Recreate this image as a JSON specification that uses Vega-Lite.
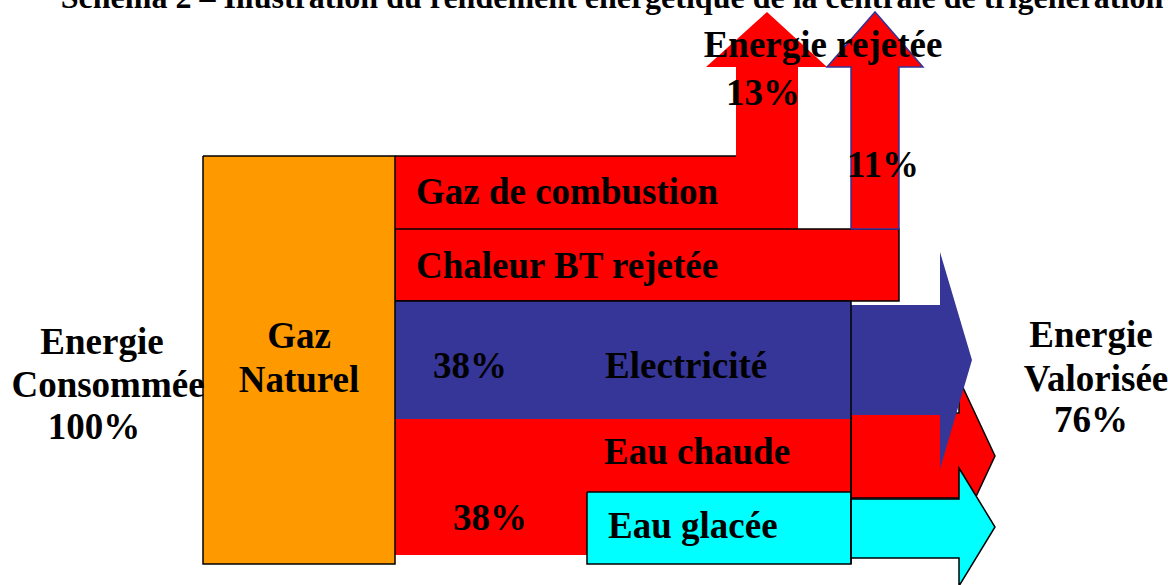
{
  "$schema": "https://vega.github.io/schema/vega-lite/v6.json",
  "width": 1168,
  "height": 585,
  "autosize": {"type": "none"},
  "padding": 0,
  "background": "white",
  "config": {"view": {"stroke": null}},
  "datasets": {
    "shapes": [
      {"shape": "comb", "i": 1, "x": 395, "y": 156},
      {"shape": "comb", "i": 2, "x": 736, "y": 156},
      {"shape": "comb", "i": 3, "x": 736, "y": 67},
      {"shape": "comb", "i": 4, "x": 706, "y": 67},
      {"shape": "comb", "i": 5, "x": 767, "y": 12},
      {"shape": "comb", "i": 6, "x": 827, "y": 67},
      {"shape": "comb", "i": 7, "x": 798, "y": 67},
      {"shape": "comb", "i": 8, "x": 798, "y": 229},
      {"shape": "comb", "i": 9, "x": 395, "y": 229},
      {"shape": "chaleur", "i": 1, "x": 395, "y": 229},
      {"shape": "chaleur", "i": 2, "x": 899, "y": 229},
      {"shape": "chaleur", "i": 3, "x": 899, "y": 301},
      {"shape": "chaleur", "i": 4, "x": 395, "y": 301},
      {"shape": "chaleur", "i": 5, "x": 395, "y": 229},
      {"shape": "rej11", "i": 1, "x": 851, "y": 229},
      {"shape": "rej11", "i": 2, "x": 851, "y": 67},
      {"shape": "rej11", "i": 3, "x": 827, "y": 67},
      {"shape": "rej11", "i": 4, "x": 875, "y": 12},
      {"shape": "rej11", "i": 5, "x": 923, "y": 67},
      {"shape": "rej11", "i": 6, "x": 899, "y": 67},
      {"shape": "rej11", "i": 7, "x": 899, "y": 229},
      {"shape": "rej11", "i": 8, "x": 851, "y": 229},
      {"shape": "chaude", "i": 1, "x": 395, "y": 419},
      {"shape": "chaude", "i": 2, "x": 851, "y": 419},
      {"shape": "chaude", "i": 3, "x": 851, "y": 555},
      {"shape": "chaude", "i": 4, "x": 395, "y": 555},
      {"shape": "chaudeArrow", "i": 1, "x": 851, "y": 413},
      {"shape": "chaudeArrow", "i": 2, "x": 959, "y": 413},
      {"shape": "chaudeArrow", "i": 3, "x": 959, "y": 379},
      {"shape": "chaudeArrow", "i": 4, "x": 995, "y": 456},
      {"shape": "chaudeArrow", "i": 5, "x": 959, "y": 533},
      {"shape": "chaudeArrow", "i": 6, "x": 959, "y": 498},
      {"shape": "chaudeArrow", "i": 7, "x": 851, "y": 498},
      {"shape": "chaudeArrow", "i": 8, "x": 851, "y": 413},
      {"shape": "elec", "i": 1, "x": 395, "y": 301},
      {"shape": "elec", "i": 2, "x": 851, "y": 301},
      {"shape": "elec", "i": 3, "x": 851, "y": 305},
      {"shape": "elec", "i": 4, "x": 940, "y": 305},
      {"shape": "elec", "i": 5, "x": 940, "y": 252},
      {"shape": "elec", "i": 6, "x": 972, "y": 360},
      {"shape": "elec", "i": 7, "x": 940, "y": 469},
      {"shape": "elec", "i": 8, "x": 940, "y": 415},
      {"shape": "elec", "i": 9, "x": 851, "y": 415},
      {"shape": "elec", "i": 10, "x": 851, "y": 419},
      {"shape": "elec", "i": 11, "x": 395, "y": 419},
      {"shape": "glacee", "i": 1, "x": 587, "y": 492},
      {"shape": "glacee", "i": 2, "x": 851, "y": 492},
      {"shape": "glacee", "i": 3, "x": 851, "y": 564},
      {"shape": "glacee", "i": 4, "x": 587, "y": 564},
      {"shape": "glacee", "i": 5, "x": 587, "y": 492},
      {"shape": "glaceeArrow", "i": 1, "x": 851, "y": 499},
      {"shape": "glaceeArrow", "i": 2, "x": 959, "y": 499},
      {"shape": "glaceeArrow", "i": 3, "x": 959, "y": 468},
      {"shape": "glaceeArrow", "i": 4, "x": 995, "y": 527},
      {"shape": "glaceeArrow", "i": 5, "x": 959, "y": 586},
      {"shape": "glaceeArrow", "i": 6, "x": 959, "y": 558},
      {"shape": "glaceeArrow", "i": 7, "x": 851, "y": 558},
      {"shape": "glaceeArrow", "i": 8, "x": 851, "y": 499},
      {"shape": "gaz", "i": 1, "x": 203, "y": 156},
      {"shape": "gaz", "i": 2, "x": 395, "y": 156},
      {"shape": "gaz", "i": 3, "x": 395, "y": 564},
      {"shape": "gaz", "i": 4, "x": 203, "y": 564},
      {"shape": "gaz", "i": 5, "x": 203, "y": 156}
    ],
    "edges": [
      {"x": 395, "y": 156, "x2": 736, "y2": 156},
      {"x": 395, "y": 301, "x2": 851, "y2": 301},
      {"x": 851, "y": 301, "x2": 851, "y2": 564}
    ],
    "labelsCenter": [
      {"x": 823, "y": 57, "text": "Energie rejetée"},
      {"x": 763, "y": 105, "text": "13%"},
      {"x": 883, "y": 177, "text": "11%"},
      {"x": 299, "y": 348, "text": "Gaz"},
      {"x": 299, "y": 392, "text": "Naturel"},
      {"x": 102, "y": 354, "text": "Energie"},
      {"x": 108, "y": 397, "text": "Consommée"},
      {"x": 94, "y": 439, "text": "100%"},
      {"x": 1091, "y": 347, "text": "Energie"},
      {"x": 1096, "y": 391, "text": "Valorisée"},
      {"x": 1091, "y": 432, "text": "76%"},
      {"x": 470, "y": 378, "text": "38%"},
      {"x": 490, "y": 530, "text": "38%"}
    ],
    "labelsLeft": [
      {"x": 416, "y": 204, "text": "Gaz de combustion"},
      {"x": 416, "y": 278, "text": "Chaleur BT rejetée"},
      {"x": 605, "y": 378, "text": "Electricité"},
      {"x": 604, "y": 464, "text": "Eau chaude"},
      {"x": 608, "y": 538, "text": "Eau glacée"}
    ],
    "title": [
      {"x": 612, "y": 8, "text": "Schéma 2 – Illustration du rendement énergétique de la centrale de trigénération"}
    ]
  },
  "encoding": {
    "x": {"field": "x", "type": "quantitative", "scale": {"domain": [0, 1168], "nice": false, "zero": false}, "axis": null},
    "y": {"field": "y", "type": "quantitative", "scale": {"domain": [0, 585], "nice": false, "zero": false, "reverse": true}, "axis": null}
  },
  "layer": [
    {"data": {"name": "shapes"}, "transform": [{"filter": "datum.shape == 'comb'"}],
     "mark": {"type": "line", "fill": "#FF0000", "stroke": null, "interpolate": "linear"},
     "encoding": {"order": {"field": "i", "type": "quantitative"}}},
    {"data": {"name": "shapes"}, "transform": [{"filter": "datum.shape == 'chaleur'"}],
     "mark": {"type": "line", "fill": "#FF0000", "stroke": "#000000", "strokeWidth": 1.5},
     "encoding": {"order": {"field": "i", "type": "quantitative"}}},
    {"data": {"name": "shapes"}, "transform": [{"filter": "datum.shape == 'rej11'"}],
     "mark": {"type": "line", "fill": "#FF0000", "stroke": "#333399", "strokeWidth": 1.5},
     "encoding": {"order": {"field": "i", "type": "quantitative"}}},
    {"data": {"name": "shapes"}, "transform": [{"filter": "datum.shape == 'chaude'"}],
     "mark": {"type": "line", "fill": "#FF0000", "stroke": null},
     "encoding": {"order": {"field": "i", "type": "quantitative"}}},
    {"data": {"name": "shapes"}, "transform": [{"filter": "datum.shape == 'chaudeArrow'"}],
     "mark": {"type": "line", "fill": "#FF0000", "stroke": "#000000", "strokeWidth": 1.5},
     "encoding": {"order": {"field": "i", "type": "quantitative"}}},
    {"data": {"name": "shapes"}, "transform": [{"filter": "datum.shape == 'elec'"}],
     "mark": {"type": "line", "fill": "#363699", "stroke": null},
     "encoding": {"order": {"field": "i", "type": "quantitative"}}},
    {"data": {"name": "shapes"}, "transform": [{"filter": "datum.shape == 'glacee'"}],
     "mark": {"type": "line", "fill": "#00FFFF", "stroke": "#000000", "strokeWidth": 1.5},
     "encoding": {"order": {"field": "i", "type": "quantitative"}}},
    {"data": {"name": "shapes"}, "transform": [{"filter": "datum.shape == 'glaceeArrow'"}],
     "mark": {"type": "line", "fill": "#00FFFF", "stroke": "#000000", "strokeWidth": 1.5, "clip": true},
     "encoding": {"order": {"field": "i", "type": "quantitative"}}},
    {"data": {"name": "shapes"}, "transform": [{"filter": "datum.shape == 'gaz'"}],
     "mark": {"type": "line", "fill": "#FF9900", "stroke": "#000000", "strokeWidth": 1.5},
     "encoding": {"order": {"field": "i", "type": "quantitative"}}},
    {"data": {"name": "edges"},
     "mark": {"type": "rule", "color": "#000000", "strokeWidth": 1.5},
     "encoding": {"x2": {"field": "x2"}, "y2": {"field": "y2"}}},
    {"data": {"name": "labelsCenter"},
     "mark": {"type": "text", "font": "Liberation Serif", "fontWeight": "bold", "fontSize": 37, "align": "center", "baseline": "alphabetic", "color": "#000000"},
     "encoding": {"text": {"field": "text"}}},
    {"data": {"name": "labelsLeft"},
     "mark": {"type": "text", "font": "Liberation Serif", "fontWeight": "bold", "fontSize": 37, "align": "left", "baseline": "alphabetic", "color": "#000000"},
     "encoding": {"text": {"field": "text"}}},
    {"data": {"name": "title"},
     "mark": {"type": "text", "font": "Liberation Serif", "fontWeight": "bold", "fontSize": 32, "align": "center", "baseline": "alphabetic", "color": "#000000"},
     "encoding": {"text": {"field": "text"}}}
  ]
}
